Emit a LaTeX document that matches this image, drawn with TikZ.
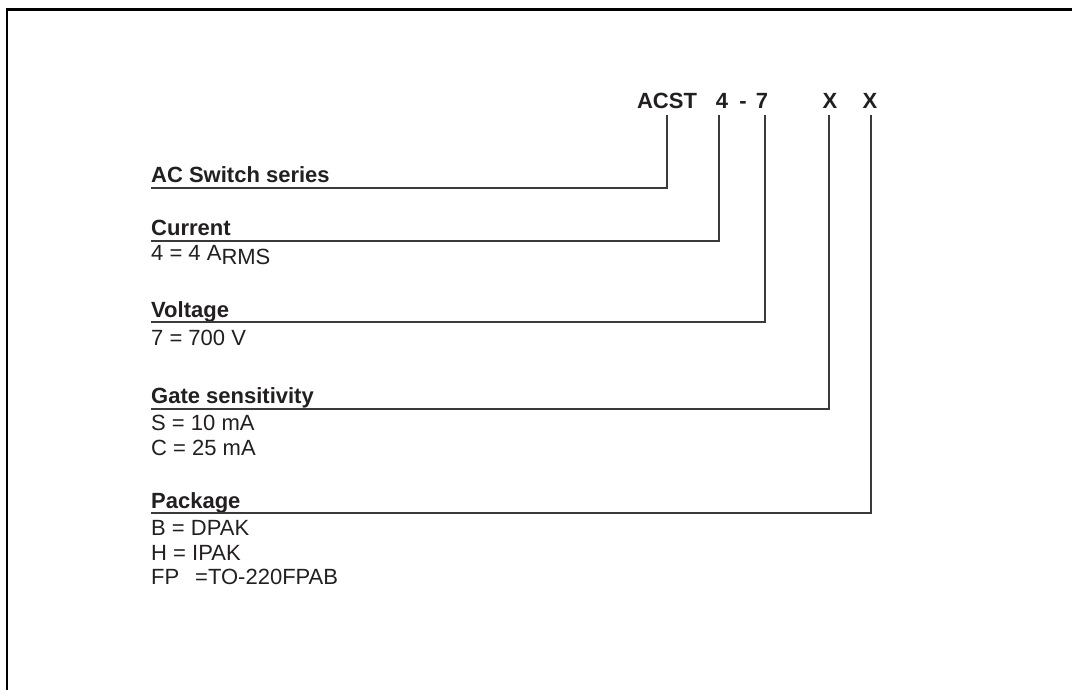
\documentclass[tikz,border=0pt]{standalone}
\usepackage{fontspec}
\setmainfont{Liberation Sans}
\usetikzlibrary{positioning}
\definecolor{ink}{HTML}{231F20}
\definecolor{rulegray}{HTML}{3A3A3A}
\tikzstyle{code} = [inner sep=0pt, anchor=base, text=ink, font=\bfseries\fontsize{22}{26}\selectfont]
\tikzstyle{head} = [inner sep=0pt, anchor=base west, text=ink, font=\bfseries\fontsize{22}{26}\selectfont]
\tikzstyle{val} = [inner sep=0pt, anchor=base west, text=ink, font=\fontsize{22}{26}\selectfont]
\tikzstyle{line} = [draw, rulegray, line width=1.4pt]

\begin{document}
\begin{tikzpicture}[x=1pt, y=-1pt]
    \useasboundingbox (0,0) rectangle (1072,690);
    % frame
    \draw[line width=2.6pt] (7,692) -- (7,9.5) -- (1076,9.5);

    % part number
    \node [code] (acst) at (667,109) {ACST};
    \node [code] (cur_code) at (722,109) {4};
    \node [code] (dash) at (743,109) {-};
    \node [code] (volt_code) at (762,109) {7};
    \node [code] (gate_code) at (830,109) {X};
    \node [code] (pack_code) at (870,109) {X};

    % fields
    \node [head] (series) at (151,183) {AC Switch series};
    \node [head] (cur) at (151,236) {Current};
    \node [val, below=24pt of cur.base west, anchor=base west] (cur_a) {4 = 4 A\raisebox{-5pt}{RMS}};
    \node [head] (volt) at (151,317) {Voltage};
    \node [val, below=28pt of volt.base west, anchor=base west] (volt_a) {7 = 700 V};
    \node [head] (gate) at (151,403) {Gate sensitivity};
    \node [val, below=27pt of gate.base west, anchor=base west] (gate_s) {S = 10 mA};
    \node [val, below=25pt of gate_s.base west, anchor=base west] (gate_c) {C = 25 mA};
    \node [head] (pack) at (151,508) {Package};
    \node [val, below=27pt of pack.base west, anchor=base west] (pack_b) {B = DPAK};
    \node [val, below=25pt of pack_b.base west, anchor=base west] (pack_h) {H = IPAK};
    \node [val, below=24pt of pack_h.base west, anchor=base west] (pack_fp) {FP\ \ \,=TO-220FPAB};

    \path [line] ([yshift=-6pt]acst.base) |- ([yshift=-5pt]series.base west);
    \path [line] ([xshift=-3pt,yshift=-6pt]cur_code.base) |- ([yshift=-5pt]cur.base west);
    \path [line] ([xshift=3pt,yshift=-6pt]volt_code.base) |- ([yshift=-5pt]volt.base west);
    \path [line] ([xshift=-1pt,yshift=-6pt]gate_code.base) |- ([yshift=-6pt]gate.base west);
    \path [line] ([xshift=1pt,yshift=-6pt]pack_code.base) |- ([yshift=-5pt]pack.base west);

\end{tikzpicture}
\end{document}
